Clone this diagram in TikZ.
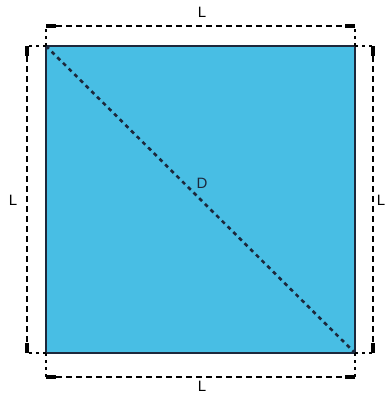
\documentclass[tikz,border=0pt]{standalone}
\usepackage{fontspec}
\setmainfont{Liberation Sans}
\definecolor{sqfill}{RGB}{72,190,228}
\definecolor{sqedge}{RGB}{28,40,60}
\tikzset{
  dimline/.style={line width=2pt,dash pattern=on 6pt off 4pt},
  extline/.style={line width=2pt,dash pattern=on 3pt off 4pt},
  diagline/.style={line width=2.6pt,dash pattern=on 4pt off 4pt},
  dimcap/.style={line width=3.5pt},
  lbl/.style={font=\fontsize{15}{15}\selectfont,inner sep=0pt}
}
\begin{document}
\begin{tikzpicture}[x=1pt,y=-1pt]
    \useasboundingbox (0,0) rectangle (386,400);
    \coordinate (A) at (46,46);
    \coordinate (B) at (355,46);
    \coordinate (C) at (355,353);
    \coordinate (E) at (46,353);

    \fill[sqfill] (A) rectangle (C);
    \draw[sqedge,line width=2.2pt] (A) -- (B) -- (C) -- (E) -- cycle;
    \draw[sqedge,diagline] (A) -- (C);
    \node[lbl,text=sqedge] (D) at (202,183){D};

    % top
    \coordinate (T1) at (46,26);
    \coordinate (T2) at (355,26);
    \draw[extline] (A) -- (T1);
    \draw[extline] (B) -- (T2);
    \draw[dimline] (T1) -- (T2);
    \draw[dimcap] (T1) -- ++(10,0);
    \draw[dimcap] (T2) -- ++(-10,0);
    \node[lbl] (Ltop) at (202,12){L};

    % bottom
    \coordinate (U1) at (46,377);
    \coordinate (U2) at (355,377);
    \draw[extline] (E) -- (U1);
    \draw[extline] (C) -- (U2);
    \draw[dimline] (U1) -- (U2);
    \draw[dimcap] (U1) -- ++(10,0);
    \draw[dimcap] (U2) -- ++(-10,0);
    \node[lbl] (Lbot) at (202,386){L};

    % left
    \coordinate (V1) at (27,46);
    \coordinate (V2) at (27,353);
    \draw[extline] (A) -- (V1);
    \draw[extline] (E) -- (V2);
    \draw[dimline] (V1) -- (V2);
    \draw[dimcap] (V1) -- ++(0,10);
    \draw[dimcap] (V2) -- ++(0,-10);
    \node[lbl] (Lleft) at (13,200){L};

    % right
    \coordinate (W1) at (373,46);
    \coordinate (W2) at (373,353);
    \draw[extline] (B) -- (W1);
    \draw[extline] (C) -- (W2);
    \draw[dimline] (W1) -- (W2);
    \draw[dimcap] (W1) -- ++(0,10);
    \draw[dimcap] (W2) -- ++(0,-10);
    \node[lbl] (Lright) at (381,200){L};
\end{tikzpicture}
\end{document}
